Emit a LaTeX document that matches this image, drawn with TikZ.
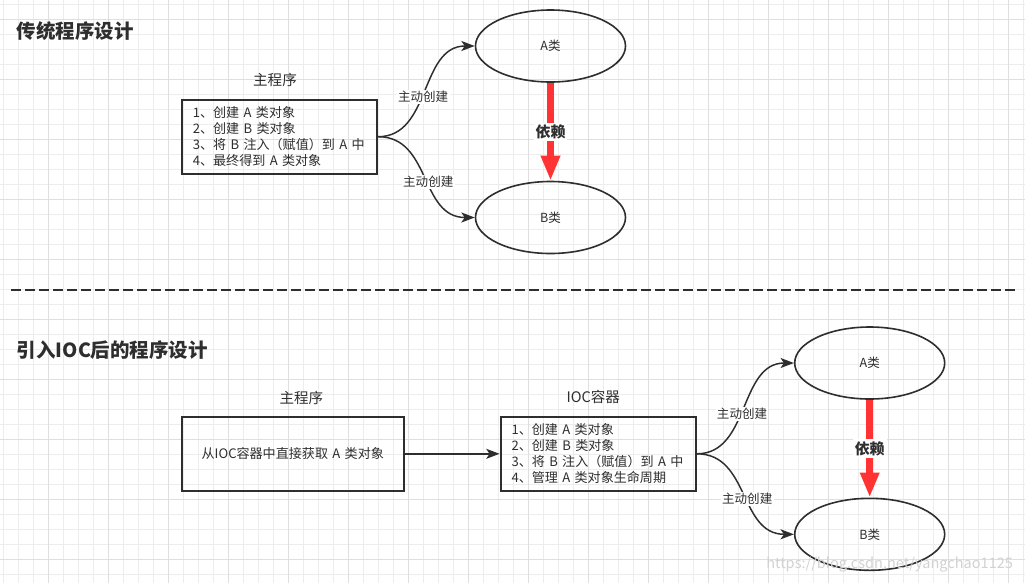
\documentclass[tikz,border=0pt]{standalone}
\usepackage{fontspec}
\setmainfont{Noto Sans CJK SC}
\usepackage{xcolor}
\usetikzlibrary{arrows.meta,shapes.geometric}

\definecolor{ink}{HTML}{2E2E2E}
\definecolor{depred}{HTML}{FF3333}
\definecolor{gridminor}{HTML}{EDEDED}
\definecolor{gridmajor}{HTML}{DFDFDF}
\definecolor{wmgray}{HTML}{D2D2D2}

\begin{document}
\begin{tikzpicture}[
        x=0.75pt, y=-0.75pt,
        every node/.style={font=\fontsize{9.4pt}{12pt}\selectfont, text=ink},
        minor/.style={line width=0.75pt, draw=gridminor},
        major/.style={line width=0.75pt, draw=gridmajor},
        title/.style={anchor=west, inner xsep=0pt, font=\fontsize{14.6pt}{17pt}\selectfont\bfseries},
        head/.style={font=\fontsize{10.9pt}{13pt}\selectfont},
        box/.style={draw=ink, line width=1.5pt, minimum height=55.5pt, inner xsep=8.25pt, inner ysep=0pt, font=\fontsize{9.8pt}{12pt}\selectfont},
        listbox/.style={box, text width=130pt, align=left},
        cls/.style={ellipse, draw=ink, line width=1.2pt, minimum width=112.5pt, minimum height=54pt, inner sep=0pt},
        flow/.style={draw=ink, line width=1.1pt, -{Stealth[length=10pt, width=7.5pt, inset=2.5pt]}},
        lbl/.style={fill=white, inner sep=1pt},
        dep/.style={draw=depred, line width=5.6pt, -{Triangle[length=18.75pt, width=13.5pt]}},
        deplbl/.style={fill=white, inner sep=1.5pt, font=\fontsize{11.2pt}{13pt}\selectfont\bfseries},
        sepline/.style={draw=ink, line width=1.5pt, dash pattern=on 7.5pt off 3pt},
        wmark/.style={anchor=west, inner xsep=0pt, text=wmgray, font=\fontsize{10.9pt}{13pt}\selectfont}
    ]
        \useasboundingbox (0,0) rectangle (1025,583);
        \fill[white] (0,0) rectangle (1025,583);
        \foreach \x in {3.5,18.5,...,1025} \draw[minor] (\x,0) -- (\x,583);
        \foreach \y in {4.3,19.3,...,583} \draw[minor] (0,\y) -- (1025,\y);
        \foreach \x in {48.5,108.5,...,1025} \draw[major] (\x,0) -- (\x,583);
        \foreach \y in {19.3,79.3,...,583} \draw[major] (0,\y) -- (1025,\y);

        \node[title] (title1) at (16.7,31) {传统程序设计};
        \node[head] (main1) at (275,80) {主程序};
        \node[listbox] (box1) at (279.5,136.7) {1、创建 A 类对象\\2、创建 B 类对象\\3、将 B 注入（赋值）到 A 中\\4、最终得到 A 类对象};
        \node[cls] (a1) at (550.5,46) {A类};
        \node[cls] (b1) at (550.5,217.5) {B类};

        \draw[flow] (box1.east) .. controls +(53,0) and +(-55,0) .. (a1.west) node[lbl, pos=0.46] (c1) {主动创建};
        \draw[flow] (box1.east) .. controls +(53,0) and +(-55,0) .. (b1.west) node[lbl, pos=0.54] (c2) {主动创建};
        \draw[dep] (a1.south) -- (b1.north) node[deplbl, pos=0.5] (d1) {依赖};

        \coordinate (sepl) at (11,289.5);
        \coordinate (sepr) at (1015,289.5);
        \draw[sepline] (sepl) -- (sepr);

        \node[title] (title2) at (16.7,350) {引入IOC后的程序设计};
        \node[head] (main2) at (301.3,397.5) {主程序};
        \node[box, text width=150pt, align=center] (box2) at (292.8,453.8) {从IOC容器中直接获取 A 类对象};
        \node[head] (ioc) at (593.3,396.7) {IOC容器};
        \node[listbox] (box3) at (598.2,453.8) {1、创建 A 类对象\\2、创建 B 类对象\\3、将 B 注入（赋值）到 A 中\\4、管理 A 类对象生命周期};
        \node[cls] (a2) at (869.7,363) {A类};
        \node[cls] (b2) at (869.7,534.3) {B类};

        \draw[flow] (box2) -- (box3);
        \draw[flow] (box3.east) .. controls +(53,0) and +(-55,0) .. (a2.west) node[lbl, pos=0.46] (c3) {主动创建};
        \draw[flow] (box3.east) .. controls +(53,0) and +(-55,0) .. (b2.west) node[lbl, pos=0.54] (c4) {主动创建};
        \draw[dep] (a2.south) -- (b2.north) node[deplbl, pos=0.5] (d2) {依赖};

        \node[wmark] (wm) at (766,565) {https://blog.csdn.net/yangchao1125};
    \end{tikzpicture}
\end{document}
